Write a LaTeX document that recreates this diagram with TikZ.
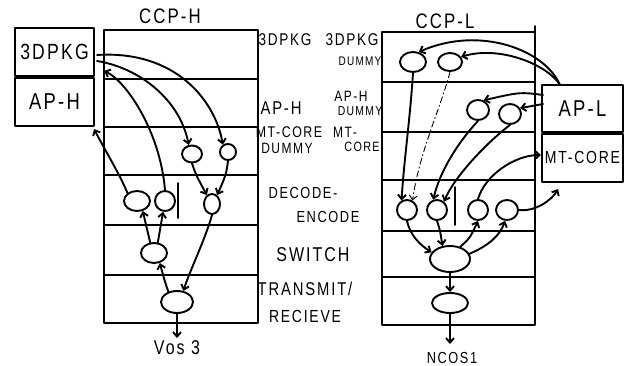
\documentclass[tikz,border=0pt]{standalone}
\usepackage{fontspec}
\setmainfont{Liberation Sans}
\newfontfamily\hand[LetterSpace=10,FakeStretch=0.8]{Liberation Sans}
\usetikzlibrary{arrows.meta,shapes.geometric}
\begin{document}
\begin{tikzpicture}[x=1pt,y=-1pt,
  line width=1.9pt, line cap=round, line join=round,
  ell/.style={draw, ellipse, inner sep=0pt},
  arr/.style={-{Straight Barb[length=4.5pt,width=8pt]}},
  fs/.style={inner sep=0pt, align=center, font=\hand\fontsize{#1}{#1}\selectfont},
  boxnode/.style={draw, rectangle, inner sep=0pt}]
\fill[white] (0,0) rectangle (629,366);
\useasboundingbox (0,0) rectangle (629,366);

% CCP-H frame
\draw (104,30) rectangle (258,323);
\foreach \y in {79,127,175,225,275} \draw (104,\y) -- (258,\y);
% CCP-L frame
\draw (382,32) rectangle (535,325);
\foreach \y in {82,132,180,231,277} \draw (382,\y) -- (535,\y);
\draw (535,32) -- (535,26);

% side boxes
\node[boxnode, minimum width=79pt, minimum height=48pt, fs=22] (hpkg) at (54.5,52) {3DPKG};
\node[boxnode, minimum width=79pt, minimum height=48pt, anchor=north, fs=23] (hap) at (hpkg.south) {AP-H};
\node[boxnode, minimum width=81pt, minimum height=47pt, fs=23] (lapl) at (582.5,108.5) {AP-L};
\node[boxnode, minimum width=81pt, minimum height=48pt, anchor=north, fs=17.5] (lmt) at (lapl.south) {MT-CORE};

% titles and labels
\node[fs=21] (tccph) at (170,16) {CCP-H};
\node[fs=21] (tccpl) at (445,21) {CCP-L};
\node[fs=17] (tl1) at (285,40) {3DPKG};
\node[fs=18.5] (tl2) at (281,108) {AP-H};
\node[fs=15.5] (tl3) at (289,132) {MT-CORE};
\node[fs=15] (tl4) at (287,148) {DUMMY};
\node[fs=17] (tr1) at (352,40) {3DPKG};
\node[fs=12.5] (tr2) at (360,61) {DUMMY};
\node[fs=15] (tr3) at (351,96) {AP-H};
\node[fs=13] (tr4) at (360,111) {DUMMY};
\node[fs=15] (tr5) at (345,132) {MT-};
\node[fs=13.5] (tr6) at (362,147) {CORE};
\node[fs=16] (tdec) at (303,193) {DECODE-};
\node[fs=16] (tenc) at (328,217) {ENCODE};
\node[fs=20] (tsw) at (313,255) {SWITCH};
\node[fs=18.5] (ttr) at (305,289) {TRANSMIT/};
\node[fs=17.5] (trec) at (305,316) {RECIEVE};
\node[fs=20] (tvos) at (177,348) {Vos 3};
\node[fs=16] (tncos) at (452,358) {NCOS1};

% left ellipses
\node[ell, minimum width=20pt, minimum height=17pt] (hm1) at (192,154) {};
\node[ell, minimum width=16pt, minimum height=16pt] (hm2) at (228,152) {};
\node[ell, minimum width=26pt, minimum height=20pt] (hd1) at (137,201) {};
\node[ell, minimum width=20pt, minimum height=20pt] (hd2) at (165,201) {};
\node[ell, minimum width=16pt, minimum height=20pt] (hd3) at (212,204) {};
\node[ell, minimum width=26pt, minimum height=20pt] (hs) at (154,253) {};
\node[ell, minimum width=32pt, minimum height=22pt] (ht) at (177,302) {};
\draw (178,183) -- (178,218);

% right ellipses
\node[ell, minimum width=26pt, minimum height=20pt] (l3d1) at (413,62) {};
\node[ell, minimum width=24pt, minimum height=18pt] (l3d2) at (450,62) {};
\node[ell, minimum width=22pt, minimum height=20pt] (lap1) at (478,110) {};
\node[ell, minimum width=22pt, minimum height=20pt] (lap2) at (510,114) {};
\node[ell, minimum width=20pt, minimum height=20pt] (ld1) at (407,210) {};
\node[ell, minimum width=20pt, minimum height=20pt] (ld2) at (437,210) {};
\node[ell, minimum width=20pt, minimum height=20pt] (ld3) at (478,210) {};
\node[ell, minimum width=22pt, minimum height=20pt] (ld4) at (507,210) {};
\node[ell, minimum width=40pt, minimum height=26pt] (ls) at (450,259) {};
\node[ell, minimum width=36pt, minimum height=20pt] (lt) at (450,303) {};
\draw (455,187) -- (455,225);

% free ends
\coordinate (h3do1) at (97,55);
\coordinate (h3do2) at (97,61);
\coordinate (h3di) at (104,71);
\coordinate (hapi) at (94,129);
\coordinate (vos) at (177,338);
\coordinate (lapo) at (560,85);
\coordinate (lapo1) at (543,95);
\coordinate (lapo2) at (543,104);
\coordinate (lmti) at (541,155);
\coordinate (lbot) at (558,189);
\coordinate (ncos) at (450,344);

% left connectors
\draw[arr] (h3do1) .. controls (175,50) and (215,100) .. (hm2.125);
\draw[arr] (h3do2) .. controls (140,68) and (180,100) .. (hm1.110);
\draw[arr] (hd2.north) .. controls (160,130) and (125,80) .. (h3di);
\draw[arr] (hd1.140) .. controls (120,175) and (105,150) .. (hapi);
\draw[arr] (hm1.south) .. controls (196,175) .. (hd3.120);
\draw[arr] (hm2.south) .. controls (226,175) .. (hd3.60);
\draw[arr] (hd3.south) .. controls (205,240) and (190,270) .. (ht.60);
\draw[arr] (hs.110) -- (hd1.-60);
\draw[arr] (hs.70) -- (hd2.-100);
\draw[arr] (ht.130) .. controls (165,282) .. (hs.-60);
\draw[arr] (ht.south) -- (vos);

% right connectors
\draw[arr] (lapo) .. controls (545,50) and (480,25) .. (l3d1.60);
\draw[arr] (lapo) .. controls (548,65) and (500,45) .. (l3d2.25);
\draw[arr] (lapo1) .. controls (520,92) .. (lap1.60);
\draw[arr] (lapo2) -- (lap2.30);
\draw[arr] (l3d1.south) .. controls (410,120) and (404,160) .. (ld1.120);
\draw[arr, line width=0.9pt, dash pattern=on 6pt off 3pt on 1pt off 3pt] (l3d2.south) .. controls (440,110) and (420,150) .. (ld1.60);
\draw[arr] (lap1.south) .. controls (460,140) and (440,170) .. (ld2.110);
\draw[arr] (lap2.south) .. controls (490,140) and (455,175) .. (ld2.50);
\draw[arr] (ld3.north) .. controls (485,175) and (515,155) .. (lmti);
\draw[arr] (ld4.east) .. controls (535,212) and (552,200) .. (lbot);
\draw[arr] (ld1.south) .. controls (410,235) and (420,245) .. (ls.160);
\draw[arr] (ld2.south) .. controls (440,230) .. (ls.120);
\draw[arr] (ls.50) .. controls (470,238) .. (ld3.south);
\draw[arr] (ls.15) .. controls (490,245) and (500,235) .. (ld4.-100);
\draw[arr] (ls.south) -- (lt.north);
\draw[arr] (lt.south) -- (ncos);
\end{tikzpicture}
\end{document}
